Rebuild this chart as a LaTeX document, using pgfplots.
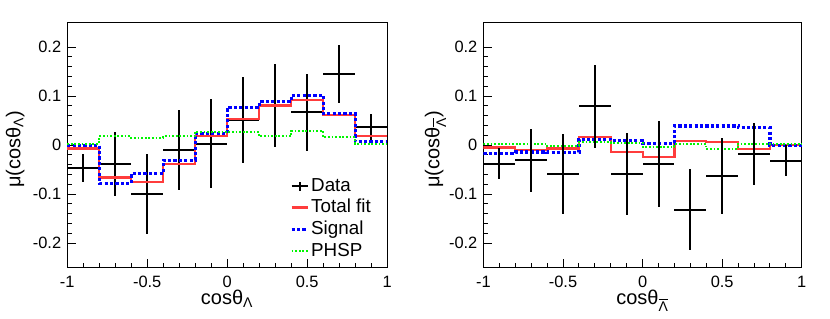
\documentclass[border=0pt]{standalone}
\usepackage{fontspec}
\setmainfont{Liberation Sans}
\usepackage{pgfplots}
\usepackage{pgfplotstable}
\pgfplotsset{compat=1.18}
\definecolor{rootred}{RGB}{255,60,60}
\definecolor{rootblue}{RGB}{0,0,255}
\definecolor{rootgreen}{RGB}{0,245,0}

% left panel data: x y ex ey
\pgfplotstableread{
x y ex ey
-0.9 -0.047 0.1 0.029
-0.7 -0.039 0.1 0.065
-0.5 -0.100 0.1 0.082
-0.3 -0.010 0.1 0.082
-0.1 0.003 0.1 0.091
0.1 0.051 0.1 0.087
0.3 0.081 0.1 0.084
0.5 0.067 0.1 0.079
0.7 0.145 0.1 0.060
0.9 0.036 0.1 0.027
}\dataL
\pgfplotstableread{
x y ex ey
-0.9 -0.038 0.1 0.032
-0.7 -0.031 0.1 0.064
-0.5 -0.059 0.1 0.081
-0.3 0.079 0.1 0.085
-0.1 -0.059 0.1 0.084
0.1 -0.038 0.1 0.088
0.3 -0.132 0.1 0.083
0.5 -0.063 0.1 0.078
0.7 -0.018 0.1 0.063
0.9 -0.032 0.1 0.032
}\dataR

\pgfplotsset{
  rootaxis/.style={
    scale only axis, width=160pt, height=122.5pt,
    xmin=-1, xmax=1, ymin=-0.25, ymax=0.25,
    xtick={-1,-0.5,0,0.5,1}, xticklabels={-1,-0.5,0,0.5,1},
    ytick={-0.2,-0.1,0,0.1,0.2}, yticklabels={-0.2,-0.1,0,0.1,0.2},
    minor x tick num=4, minor y tick num=4,
    tick align=inside, tick pos=left,
    major tick length=4.5pt, minor tick length=2.3pt,
    axis line style={line width=0.5pt},
    every tick/.style={black, line width=0.5pt},
    tick label style={font=\fontsize{8.2}{10}\selectfont},
    xticklabel style={yshift=-0.8pt},
    yticklabel style={xshift=0.5pt},
    label style={font=\fontsize{9.8}{12}\selectfont},
    every axis x label/.style={at={(axis description cs:0.5,0)}, yshift=-18.5pt, anchor=base},
    every axis y label/.style={at={(axis description cs:0,0.5)}, rotate=90, anchor=center},
    hist/.style={const plot mark left, mark=none},
    datastyle/.style={black, line width=1pt, only marks, mark=text, text mark={},
      error bars/.cd, x dir=both, x explicit, y dir=both, y explicit,
      error mark=none, error bar style={black, line width=1pt}},
  }
}

\begin{document}
\begin{tikzpicture}
\useasboundingbox (0,0) rectangle (415pt,159pt);

\begin{axis}[rootaxis, at={(33.6pt,25.2pt)}, anchor=south west,
  xlabel={cosθ\textsubscript{Λ}},
  ylabel={μ(cosθ\textsubscript{Λ})},
  ylabel style={yshift=26pt, xshift=-2pt},
  legend style={at={(rel axis cs:0.695,0.375)}, anchor=north west, draw=none, fill=none,
    font=\fontsize{9.4}{11}\selectfont, row sep=0.6pt, inner sep=0pt,
    nodes={inner sep=1pt}, cells={anchor=west}},
  legend cell align=left,
]
\addplot[legend image code/.code={
  \draw[black, line width=1pt] (0pt,0pt) -- (8pt,0pt);
  \draw[black, line width=1pt] (4pt,-2.3pt) -- (4pt,2.3pt);}, datastyle]
  table[x=x, y=y, x error=ex, y error=ey] {\dataL};
\addlegendentry{Data}
\addplot[hist, rootred, line width=1.1pt,
  legend image code/.code={\draw[rootred, line width=1.1pt] (0pt,0pt) -- (8pt,0pt);}]
  coordinates {(-1,-0.007) (-0.8,-0.066) (-0.6,-0.076) (-0.4,-0.039) (-0.2,0.018)
  (0,0.053) (0.2,0.081) (0.4,0.092) (0.6,0.062) (0.8,0.019) (1,0.019)};
\addlegendentry{Total fit}
\addplot[hist, rootblue, line width=1.6pt, dash pattern=on 1.6pt off 1.1pt,
  legend image code/.code={\draw[rootblue, line width=1.6pt, dash pattern=on 1.6pt off 1.1pt] (0pt,0pt) -- (8pt,0pt);}]
  coordinates {(-1,0.000) (-0.8,-0.078) (-0.6,-0.058) (-0.4,-0.031) (-0.2,0.024)
  (0,0.077) (0.2,0.089) (0.4,0.102) (0.6,0.064) (0.8,0.007) (1,0.007)};
\addlegendentry{Signal}
\addplot[hist, rootgreen, line width=1pt, dash pattern=on 0.9pt off 0.9pt,
  legend image code/.code={\draw[rootgreen, line width=1pt, dash pattern=on 0.9pt off 0.9pt] (0pt,0pt) -- (8pt,0pt);}]
  coordinates {(-1,0.003) (-0.8,0.018) (-0.6,0.015) (-0.4,0.018) (-0.2,0.027)
  (0,0.026) (0.2,0.018) (0.4,0.029) (0.6,0.016) (0.8,0.002) (1,0.002)};
\addlegendentry{PHSP}
\end{axis}

\begin{axis}[rootaxis, at={(241.7pt,25.2pt)}, anchor=south west, width=159.2pt,
  xlabel={cosθ\textsubscript{$\overline{\mbox{Λ}}$}},
  ylabel={μ(cosθ\textsubscript{$\overline{\mbox{Λ}}$})},
  ylabel style={yshift=24pt, xshift=-2pt},
]
\addplot[hist, rootred, line width=1.1pt]
  coordinates {(-1,-0.005) (-0.8,-0.010) (-0.6,-0.007) (-0.4,0.017) (-0.2,-0.014)
  (0,-0.024) (0.2,0.009) (0.4,0.007) (0.6,-0.008) (0.8,0.001) (1,0.001)};
\addplot[hist, rootblue, line width=1.6pt, dash pattern=on 1.6pt off 1.1pt]
  coordinates {(-1,-0.017) (-0.8,-0.014) (-0.6,-0.015) (-0.4,0.012) (-0.2,0.009)
  (0,0.003) (0.2,0.039) (0.4,0.039) (0.6,0.036) (0.8,-0.001) (1,-0.001)};
\addplot[hist, rootgreen, line width=1pt, dash pattern=on 0.9pt off 0.9pt]
  coordinates {(-1,0.003) (-0.8,0.003) (-0.6,-0.001) (-0.4,0.007) (-0.2,0.005)
  (0,-0.003) (0.2,0.002) (0.4,-0.008) (0.6,0.003) (0.8,0.002) (1,0.002)};
\addplot[datastyle]
  table[x=x, y=y, x error=ex, y error=ey] {\dataR};
\end{axis}
\end{tikzpicture}
\end{document}
